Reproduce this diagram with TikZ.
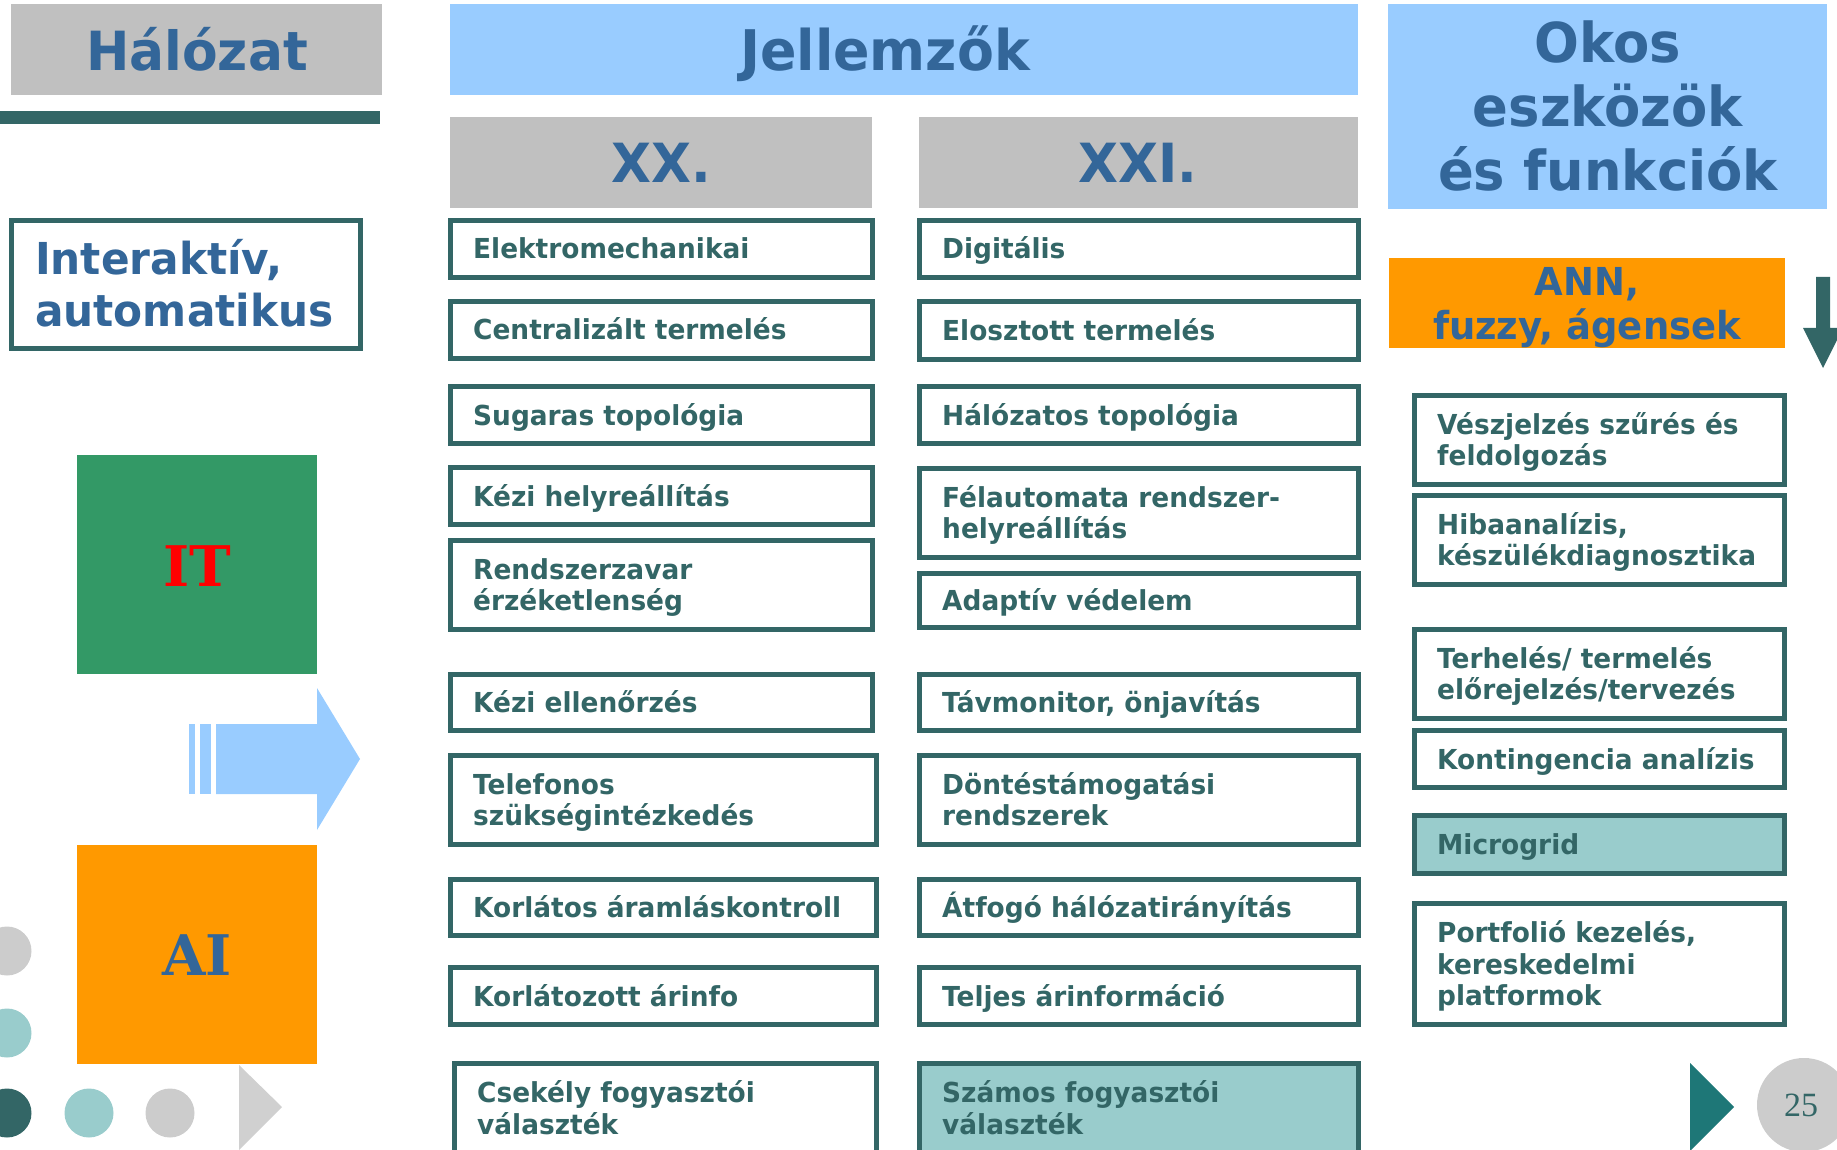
\documentclass[tikz,border=0pt]{standalone}
\usepackage{fontspec}
\newfontfamily\vfont{DejaVu Sans}[FakeStretch=0.96]
\newfontfamily\slabfont{DejaVu Serif}
\newfontfamily\numfont{Liberation Serif}

\definecolor{tealDk}{HTML}{336666}
\definecolor{tealLt}{HTML}{99CCCC}
\definecolor{tealMid}{HTML}{1E7777}
\definecolor{blueTx}{HTML}{336699}
\definecolor{hdrGray}{HTML}{C0C0C0}
\definecolor{hdrBlue}{HTML}{99CCFF}
\definecolor{orng}{HTML}{FF9900}
\definecolor{itGreen}{HTML}{339966}
\definecolor{dotGray}{HTML}{CCCCCC}
\definecolor{triGray}{HTML}{D0D0D0}

\tikzset{
  cell/.style={draw=tealDk, line width=5pt, fill=white, rectangle,
    inner sep=0pt, outer sep=0pt},
  celltext/.style={text=tealDk, inner sep=0pt, anchor=base west,
    font=\vfont\bfseries\fontsize{27.5}{31.5}\selectfont},
  panel/.style={rectangle, draw=none, inner sep=0pt, outer sep=0pt},
  hdr/.style={text=blueTx, inner sep=0pt, anchor=base,
    font=\vfont\bfseries\fontsize{54}{64}\selectfont},
}

% framed text cell: [style]{name}{x1}{y1}{x2}{y2}{lines}{text}
\newcommand\cellbox[8][]{%
  \node[cell,#1,minimum width={(#5-#3-5)*1pt},minimum height={(#6-#4-5)*1pt}]
    (#2) at ({(#3+#5)/2},{(#4+#6)/2}) {};
  \node[celltext] (#2-t) at ({#3+25},{(#4+#6)/2+10-15.75*(#7-1)})
    {\begin{tabular}[t]{@{}l@{}}#8\end{tabular}};
}
% plain filled panel: {name}{x1}{y1}{x2}{y2}{colour}
\newcommand\panel[6]{%
  \node[panel,fill=#6,minimum width={(#4-#2)*1pt},minimum height={(#5-#3)*1pt}]
    (#1) at ({(#2+#4)/2},{(#3+#5)/2}) {};
}

\begin{document}
\begin{tikzpicture}[x=1pt,y=-1pt]
\useasboundingbox (0,0) rectangle (1837,1150);
\clip (0,0) rectangle (1837,1150);

% ---- left: network ----
\panel{halo}{11}{4}{382}{95}{hdrGray}
\node[hdr] (halo-t) at (197,71) {Hálózat};
\panel{bar}{0}{111}{380}{124}{tealDk}

\node[cell,minimum width=349pt,minimum height=128pt] (inter) at (186,284.5) {};
\node[text=blueTx, inner sep=0pt, anchor=base west,
  font=\vfont\bfseries\fontsize{44}{52}\selectfont] (inter-t) at (35,275)
  {\begin{tabular}[t]{@{}l@{}}Interaktív,\\automatikus\end{tabular}};

\panel{it}{77}{455}{317}{674}{itGreen}
\node[text=red, inner sep=0pt, anchor=base,
  font=\slabfont\bfseries\fontsize{56}{60}\selectfont] (it-t) at (197,586) {IT};

\panel{ai}{77}{845}{317}{1064}{orng}
\node[text=blueTx, inner sep=0pt, anchor=base,
  font=\slabfont\bfseries\fontsize{56}{60}\selectfont] (ai-t) at (197,975) {AI};

% striped block arrow
\fill[hdrBlue] (189,724) rectangle (195,794);
\fill[hdrBlue] (200,724) rectangle (211,794);
\fill[hdrBlue] (216,724) -- (317,724) -- (317,688) -- (360,759)
  -- (317,830) -- (317,794) -- (216,794) -- cycle;

% decorative dots
\fill[dotGray] (7,951) circle (24.5);
\fill[tealLt] (7,1033) circle (24.5);
\fill[tealDk] (7,1113) circle (24.5);
\fill[tealLt] (89,1113) circle (24.5);
\fill[dotGray] (170,1113) circle (24.5);
\fill[triGray] (239,1065) -- (282,1107) -- (239,1150) -- cycle;

% ---- characteristics ----
\panel{jell}{450}{4}{1358}{95}{hdrBlue}
\node[hdr, font=\vfont\bfseries\fontsize{56}{64}\selectfont] (jell-t) at (885,71) {Jellemzők};
\panel{xx}{450}{117}{872}{208}{hdrGray}
\node[hdr] (xx-t) at (661,183) {XX.};
\panel{xxi}{919}{117}{1358}{208}{hdrGray}
\node[hdr] (xxi-t) at (1138,183) {XXI.};

\cellbox{c1}{448}{218}{875}{280}{1}{Elektromechanikai}
\cellbox{c2}{448}{299}{875}{361}{1}{Centralizált termelés}
\cellbox{c3}{448}{384}{875}{446}{1}{Sugaras topológia}
\cellbox{c4}{448}{465}{875}{527}{1}{Kézi helyreállítás}
\cellbox{c5}{448}{538}{875}{632}{2}{Rendszerzavar\\érzéketlenség}
\cellbox{c6}{448}{672}{875}{733}{1}{Kézi ellenőrzés}
\cellbox{c7}{448}{753}{879}{847}{2}{Telefonos\\szükségintézkedés}
\cellbox{c8}{448}{877}{879}{938}{1}{Korlátos áramláskontroll}
\cellbox{c9}{448}{965}{879}{1027}{1}{Korlátozott árinfo}
\cellbox{c10}{452}{1061}{879}{1156}{2}{Csekély fogyasztói\\választék}

\cellbox{d1}{917}{218}{1361}{280}{1}{Digitális}
\cellbox{d2}{917}{299}{1361}{362}{1}{Elosztott termelés}
\cellbox{d3}{917}{384}{1361}{446}{1}{Hálózatos topológia}
\cellbox{d4}{917}{466}{1361}{560}{2}{Félautomata rendszer-\\helyreállítás}
\cellbox{d5}{917}{571}{1361}{630}{1}{Adaptív védelem}
\cellbox{d6}{917}{672}{1361}{733}{1}{Távmonitor, önjavítás}
\cellbox{d7}{917}{753}{1361}{847}{2}{Döntéstámogatási\\rendszerek}
\cellbox{d8}{917}{877}{1361}{938}{1}{Átfogó hálózatirányítás}
\cellbox{d9}{917}{965}{1361}{1027}{1}{Teljes árinformáció}
\cellbox[fill=tealLt]{d10}{917}{1061}{1361}{1156}{2}{Számos fogyasztói\\választék}

% ---- smart devices and functions ----
\panel{okos}{1388}{4}{1827}{209}{hdrBlue}
\node[text=blueTx, inner sep=0pt, anchor=base,
  font=\vfont\bfseries\fontsize{55}{64}\selectfont] (okos-t) at (1608,63)
  {\begin{tabular}[t]{@{}c@{}}Okos\\eszközök\\és funkciók\end{tabular}};

\panel{ann}{1389}{258}{1785}{348}{orng}
\node[text=blueTx, inner sep=0pt, anchor=base,
  font=\vfont\bfseries\fontsize{38.5}{44}\selectfont] (ann-t) at (1587,296)
  {\begin{tabular}[t]{@{}c@{}}ANN,\\fuzzy, ágensek\end{tabular}};

\fill[tealDk] (1816,277) -- (1830,277) -- (1830,328) -- (1843,328)
  -- (1823,368) -- (1803,328) -- (1816,328) -- cycle;

\cellbox{e1}{1412}{393}{1787}{487}{2}{Vészjelzés szűrés és\\feldolgozás}
\cellbox{e2}{1412}{493}{1787}{587}{2}{Hibaanalízis,\\készülékdiagnosztika}
\cellbox{e3}{1412}{627}{1787}{721}{2}{Terhelés/ termelés\\előrejelzés/tervezés}
\cellbox{e4}{1412}{728}{1787}{790}{1}{Kontingencia analízis}
\cellbox[fill=tealLt]{e5}{1412}{813}{1787}{876}{1}{Microgrid}
\cellbox{e6}{1412}{901}{1787}{1027}{3}{Portfolió kezelés,\\kereskedelmi\\platformok}

% page marker
\fill[tealMid] (1690,1063) -- (1734,1107) -- (1690,1151) -- cycle;
\node[circle, fill=dotGray, minimum size=94pt, inner sep=0pt] (pg) at (1804,1105) {};
\node[text=tealDk, inner sep=0pt, anchor=base,
  font=\numfont\fontsize{34}{40}\selectfont] (pg-t) at (1801,1116) {25};
\end{tikzpicture}
\end{document}
